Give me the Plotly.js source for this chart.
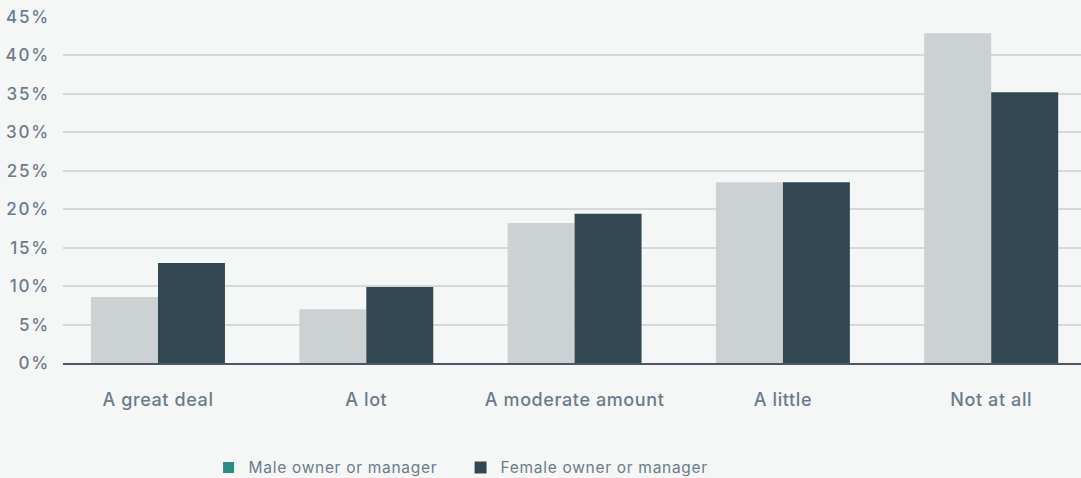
<!DOCTYPE html>
<html>
<head>
<meta charset="utf-8">
<script src="https://cdn.plot.ly/plotly-3.0.1.min.js"></script>
<style>
html,body{margin:0;padding:0;background:#f5f7f6;}
#chart{width:1081px;height:478px;}
.ytick text{letter-spacing:1.8px;}
.xtick text{letter-spacing:0.6px;}
.legendtext{letter-spacing:0.7px;}
</style>
</head>
<body>
<div id="chart"></div>
<script>
const categories = ["A great deal", "A lot", "A moderate amount", "A little", "Not at all"];
const maleValues = [8.6, 7.0, 18.2, 23.5, 42.9];
const femaleValues = [13.0, 9.9, 19.4, 23.5, 35.2];
const seriesNames = ["Male owner or manager", "Female owner or manager"];
const yTickValues = [0, 5, 10, 15, 20, 25, 30, 35, 40, 45];
const yTickLabels = ["0%", "5%", "10%", "15%", "20%", "25%", "30%", "35%", "40%", "45%"];

const FONT = "Inter, 'Noto Sans', sans-serif";
const traces = [
  {type: "bar", x: categories, y: maleValues, name: seriesNames[0], marker: {color: "#ccd1d4"}, showlegend: false, hoverinfo: "y"},
  {type: "bar", x: categories, y: femaleValues, name: seriesNames[1], marker: {color: "#334753"}, legendrank: 2},
  {type: "scatter", mode: "markers", x: [null], y: [null], name: seriesNames[0], marker: {color: "#2e8a84", symbol: "square", size: 11}, legendrank: 1}
];

const layout = {
  width: 1081, height: 478,
  paper_bgcolor: "#f5f7f6", plot_bgcolor: "#f5f7f6",
  margin: {l: 63, r: 0, t: 17, b: 115, autoexpand: false},
  barmode: "group", bargap: 0.357, bargroupgap: 0,
  font: {family: FONT, color: "#6b7b8c", size: 16},
  xaxis: {
    type: "category", range: [-0.456, 4.431],
    showgrid: false, showline: true, linecolor: "#4b5863", linewidth: 2,
    ticks: "", ticklabelstandoff: 19, automargin: false,
    tickfont: {family: FONT, size: 18, color: "#6b7b8c", weight: 500}
  },
  yaxis: {
    range: [0, 45], tickmode: "array", tickvals: yTickValues, ticktext: yTickLabels,
    showgrid: true, gridcolor: "#d5d9dc", gridwidth: 2,
    zeroline: false, showline: false, ticks: "", ticklabelstandoff: 12, automargin: false,
    tickfont: {family: FONT, size: 17, color: "#6b7b8c", weight: 500}
  },
  legend: {
    orientation: "h", x: 0.143, xanchor: "left", y: -0.303, yanchor: "middle",
    font: {family: FONT, size: 15.5, color: "#6b7b8c", weight: 400},
    bgcolor: "rgba(0,0,0,0)", traceorder: "normal", entrywidth: 207, entrywidthmode: "pixels"
  },
  showlegend: true
};

Plotly.newPlot("chart", traces, layout, {displayModeBar: false, staticPlot: true});
</script>
</body>
</html>
